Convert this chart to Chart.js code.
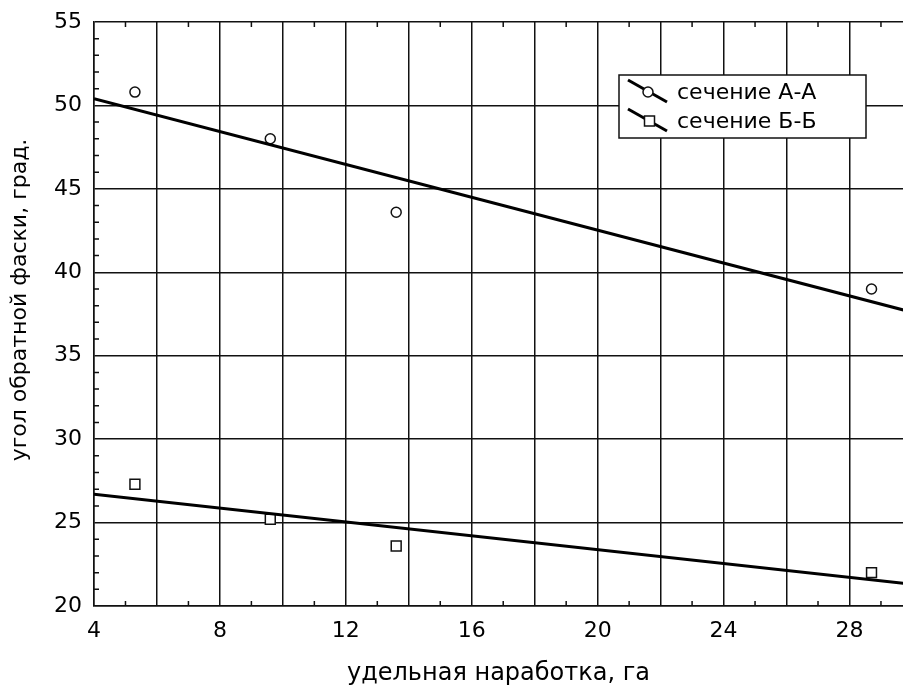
<!DOCTYPE html>
<html><head><meta charset="utf-8">
<script src="https://cdn.jsdelivr.net/npm/chart.js@4"></script>
<style>html,body{margin:0;padding:0;background:#fff;} canvas{display:block;}</style>
</head><body>
<canvas id="c" width="903" height="689"></canvas>
<script>
const xTitle = 'удельная наработка, га';
const yTitle = 'угол обратной фаски, град.';
const seriesNames = ['сечение А-А', 'сечение Б-Б'];
const xA = [5.3, 9.6, 13.6, 28.7];
const yA = [50.8, 48.0, 43.6, 39.0];
const xB = [5.3, 9.6, 13.6, 28.7];
const yB = [27.3, 25.2, 23.6, 22.0];
const fitX = [4, 30];
const fitA = [50.4, 37.6];
const fitB = [26.7, 21.3];
const xTickLabels = [4, 8, 12, 16, 20, 24, 28];
const yTickLabels = [20, 25, 30, 35, 40, 45, 50, 55];

const FONT = 'DejaVu Sans';
const INK = '#111';
const pts = (xs, ys) => xs.map((v, i) => ({x: v, y: ys[i]}));

const extras = {
  id: 'extras',
  beforeDatasetsDraw(chart) {
    const {ctx, chartArea: a, scales: {x, y}} = chart;
    ctx.save();
    ctx.strokeStyle = INK; ctx.lineWidth = 1.5;
    ctx.beginPath();
    for (let v = Math.ceil(x.min); v <= x.max; v++) {
      if (v % 2 === 0) continue;
      const px = x.getPixelForValue(v);
      ctx.moveTo(px, a.bottom); ctx.lineTo(px, a.bottom - 5);
      ctx.moveTo(px, a.top); ctx.lineTo(px, a.top + 5);
    }
    for (let v = Math.ceil(y.min); v <= y.max; v++) {
      if (v % 5 === 0) continue;
      const py = y.getPixelForValue(v);
      ctx.moveTo(a.left, py); ctx.lineTo(a.left + 5, py);
    }
    ctx.stroke();
    ctx.translate(20, 300);
    ctx.rotate(-Math.PI / 2);
    ctx.fillStyle = '#000';
    ctx.font = '22px "' + FONT + '"';
    ctx.textAlign = 'center';
    ctx.textBaseline = 'middle';
    ctx.fillText(yTitle, 0, 0);
    ctx.restore();
  },
  afterDraw(chart) {
    const ctx = chart.ctx;
    ctx.save();
    ctx.fillStyle = '#fff';
    ctx.fillRect(619, 75, 247, 63);
    ctx.strokeStyle = INK; ctx.lineWidth = 1.5;
    ctx.strokeRect(619, 75, 247, 63);
    const rows = [{y: 92, style: 'circle'}, {y: 121, style: 'rect'}];
    rows.forEach((r, i) => {
      ctx.strokeStyle = '#000'; ctx.lineWidth = 3;
      ctx.beginPath();
      ctx.moveTo(628, r.y - 12); ctx.lineTo(667, r.y + 10);
      ctx.stroke();
      ctx.fillStyle = '#fff'; ctx.lineWidth = 1.5; ctx.strokeStyle = INK;
      ctx.beginPath();
      if (r.style === 'circle') ctx.arc(648, r.y, 5, 0, Math.PI * 2);
      else ctx.rect(644.5, r.y - 5, 10, 10);
      ctx.fill(); ctx.stroke();
      ctx.fillStyle = '#000';
      ctx.font = '22px "' + FONT + '"';
      ctx.textBaseline = 'alphabetic';
      ctx.textAlign = 'left';
      ctx.fillText(seriesNames[i], 677, r.y + 7);
    });
    ctx.restore();
  }
};

new Chart(document.getElementById('c'), {
  type: 'scatter',
  data: {
    datasets: [
      {label: seriesNames[0] + ' fit', data: pts(fitX, fitA), showLine: true, borderColor: '#000', borderWidth: 3, pointRadius: 0, fill: false},
      {label: seriesNames[1] + ' fit', data: pts(fitX, fitB), showLine: true, borderColor: '#000', borderWidth: 3, pointRadius: 0, fill: false},
      {label: seriesNames[0], data: pts(xA, yA), pointStyle: 'circle', pointRadius: 5, pointBorderWidth: 1.5, pointBorderColor: INK, pointBackgroundColor: '#fff', showLine: false},
      {label: seriesNames[1], data: pts(xB, yB), pointStyle: 'rect', pointRadius: 7, pointBorderWidth: 1.5, pointBorderColor: INK, pointBackgroundColor: '#fff', showLine: false}
    ]
  },
  options: {
    responsive: false,
    animation: false,
    events: [],
    layout: {autoPadding: false, padding: {top: 22, right: 0, left: 0, bottom: 0}},
    plugins: {legend: {display: false}, tooltip: {enabled: false}},
    scales: {
      x: {
        type: 'linear', min: 4, max: 29.7,
        afterFit(s) { s.height = 83; s.paddingLeft = 0; s.paddingRight = 0; },
        ticks: {stepSize: 2, includeBounds: false, autoSkip: false, maxRotation: 0, padding: 12, color: '#000',
          font: {family: FONT, size: 22},
          callback: v => xTickLabels.includes(v) ? String(v) : ''},
        grid: {color: INK, lineWidth: 1.5, drawTicks: false},
        border: {display: true, color: INK, width: 1.5},
        title: {display: true, text: xTitle, color: '#000', font: {family: FONT, size: 24}, padding: {top: 0, bottom: 1}}
      },
      y: {
        type: 'linear', min: 20, max: 55,
        afterFit(s) { s.width = 94; s.paddingTop = 0; s.paddingBottom = 0; },
        ticks: {stepSize: 5, padding: 12, color: '#000', font: {family: FONT, size: 22},
          callback: v => yTickLabels.includes(v) ? String(v) : ''},
        grid: {color: INK, lineWidth: 1.5, drawTicks: false},
        border: {display: true, color: INK, width: 1.5},
        title: {display: false}
      }
    }
  },
  plugins: [extras]
});
</script>
</body></html>
